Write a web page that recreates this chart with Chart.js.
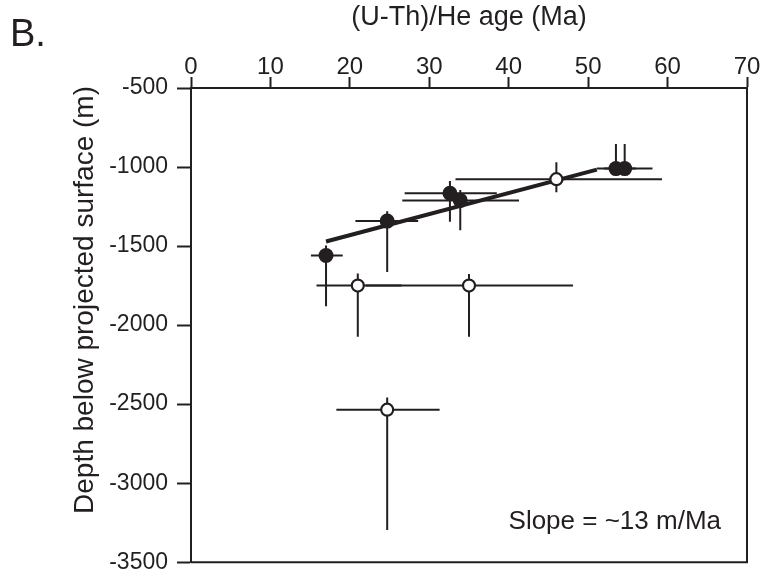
<!DOCTYPE html>
<html>
<head>
<meta charset="utf-8">
<script src="https://cdn.jsdelivr.net/npm/chart.js@4.4.1/dist/chart.umd.min.js"></script>
<style>
  html, body { margin: 0; padding: 0; background: #fff; }
  #wrap { width: 762px; height: 585px; }
</style>
</head>
<body>
<div id="wrap"><canvas id="ageDepth" width="762" height="585"></canvas></div>
<script>
// Edades (U-Th)/He vs profundidad bajo la superficie proyectada

const INK = '#231f20';
const FONT = "'Liberation Sans', Arial, Helvetica, sans-serif";

// muestras usadas en la regresion (simbolo relleno)
const filledAge      = [17.0, 24.7, 32.6, 33.9, 53.5, 54.6];
const filledDepth    = [-1560, -1342, -1166, -1211, -1010, -1010];
const filledAgeMin   = [15.1, 20.7, 26.9, 26.6, 51.1, 52.0];
const filledAgeMax   = [19.1, 28.6, 38.5, 41.3, 56.0, 58.1];
const filledDepthTop = [-1497, -1280, -1089, -1145, -855, -855];
const filledDepthBot = [-1881, -1664, -1346, -1400, -1055, -1055];

// muestras excluidas (simbolo abierto)
const openAge      = [21.0, 35.0, 46.0, 24.7];
const openDepth    = [-1750, -1750, -1077, -2535];
const openAgeMin   = [15.8, 22.0, 33.3, 18.3];
const openAgeMax   = [26.5, 48.1, 59.3, 31.3];
const openDepthTop = [-1674, -1676, -969, -2458];
const openDepthBot = [-2074, -2074, -1160, -3296];

// recta de ajuste (~13 m/Ma)
const fitAge   = [17.0, 51.1];
const fitDepth = [-1471, -1016];

const xTicks = [0, 10, 20, 30, 40, 50, 60, 70];
const yTicks = [-500, -1000, -1500, -2000, -2500, -3000, -3500];

const toPoints = (xs, ys) => xs.map((x, i) => ({ x: x, y: ys[i] }));

// barras de error horizontales y verticales
const errorBars = {
  id: 'errorBars',
  beforeDatasetsDraw(chart) {
    const { ctx, scales: { x, y } } = chart;
    const sets = [
      [filledAge, filledDepth, filledAgeMin, filledAgeMax, filledDepthTop, filledDepthBot],
      [openAge, openDepth, openAgeMin, openAgeMax, openDepthTop, openDepthBot]
    ];
    ctx.save();
    ctx.strokeStyle = INK;
    ctx.lineWidth = 2;
    sets.forEach(([ages, depths, aMin, aMax, dTop, dBot]) => {
      ages.forEach((a, i) => {
        const px = x.getPixelForValue(a);
        const py = y.getPixelForValue(depths[i]);
        ctx.beginPath();
        ctx.moveTo(x.getPixelForValue(aMin[i]), py);
        ctx.lineTo(x.getPixelForValue(aMax[i]), py);
        ctx.moveTo(px, y.getPixelForValue(dTop[i]));
        ctx.lineTo(px, y.getPixelForValue(dBot[i]));
        ctx.stroke();
      });
    });
    ctx.restore();
  }
};

// marco derecho/inferior y textos sueltos
const frameAndText = {
  id: 'frameAndText',
  afterDraw(chart) {
    const { ctx, chartArea: a } = chart;
    ctx.save();
    ctx.strokeStyle = INK;
    ctx.lineWidth = 2;
    ctx.beginPath();
    ctx.moveTo(a.right, a.top);
    ctx.lineTo(a.right, a.bottom);
    ctx.lineTo(a.left, a.bottom);
    ctx.stroke();

    ctx.fillStyle = INK;
    ctx.font = '38px ' + FONT;
    ctx.textAlign = 'left';
    ctx.textBaseline = 'alphabetic';
    ctx.fillText('B.', 10, 46);

    ctx.font = '26px ' + FONT;
    ctx.textAlign = 'right';
    ctx.fillText('Slope = ~13 m/Ma', a.right - 26, a.bottom - 33);

    ctx.translate(93, 300);
    ctx.rotate(-Math.PI / 2);
    ctx.font = '28px ' + FONT;
    ctx.textAlign = 'center';
    ctx.fillText('Depth below projected surface (m)', 0, 0);
    ctx.restore();
  }
};

new Chart(document.getElementById('ageDepth'), {
  type: 'scatter',
  data: {
    datasets: [
      {
        label: 'fit',
        data: toPoints(fitAge, fitDepth),
        showLine: true,
        borderColor: INK,
        borderWidth: 4,
        pointRadius: 0,
        order: 3
      },
      {
        label: 'open',
        data: toPoints(openAge, openDepth),
        pointRadius: 6,
        pointBackgroundColor: '#fff',
        pointBorderColor: INK,
        pointBorderWidth: 2.2,
        order: 2
      },
      {
        label: 'filled',
        data: toPoints(filledAge, filledDepth),
        pointRadius: 7.5,
        pointBackgroundColor: INK,
        pointBorderColor: INK,
        pointBorderWidth: 0,
        order: 1
      }
    ]
  },
  options: {
    responsive: false,
    animation: false,
    devicePixelRatio: 1,
    layout: { padding: { left: 0, top: 0, right: 15, bottom: 15 } },
    plugins: {
      legend: { display: false },
      tooltip: { enabled: false }
    },
    scales: {
      x: {
        type: 'linear',
        position: 'top',
        min: 0,
        max: 70,
        afterBuildTicks: (s) => { s.ticks = xTicks.map(v => ({ value: v })); },
        afterFit: (s) => { s.height = 88; },
        ticks: {
          color: INK,
          font: { family: FONT, size: 24 },
          padding: -5,
          maxRotation: 0
        },
        grid: { drawOnChartArea: false, tickLength: 11, tickWidth: 2, tickColor: INK },
        border: { color: INK, width: 2 },
        title: {
          display: true,
          text: '(U-Th)/He age (Ma)',
          color: INK,
          font: { family: FONT, size: 27 },
          padding: { top: 1, bottom: 0 }
        }
      },
      y: {
        type: 'linear',
        min: -3500,
        max: -500,
        afterBuildTicks: (s) => { s.ticks = yTicks.map(v => ({ value: v })); },
        afterFit: (s) => { s.width = 191; },
        ticks: {
          color: INK,
          font: { family: FONT, size: 23 },
          padding: 9,
          callback: (v) => String(v)
        },
        grid: { drawOnChartArea: false, tickLength: 14, tickWidth: 2, tickColor: INK },
        border: { color: INK, width: 2 }
      }
    }
  },
  plugins: [errorBars, frameAndText]
});
</script>
</body>
</html>
